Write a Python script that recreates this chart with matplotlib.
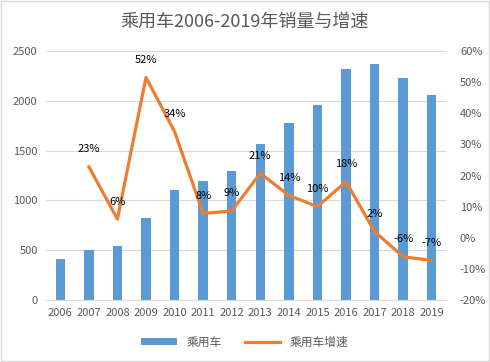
import matplotlib
matplotlib.use("Agg")
import matplotlib.pyplot as plt
from matplotlib.ticker import FuncFormatter
import numpy as np

plt.rcParams['font.family'] = ['Noto Sans CJK SC', 'DejaVu Sans']

years = ["2006", "2007", "2008", "2009", "2010", "2011", "2012",
         "2013", "2014", "2015", "2016", "2017", "2018", "2019"]
sales = [412, 502, 542, 823, 1104, 1195, 1295,
         1566, 1777, 1958, 2319, 2369, 2229, 2058]
growth_years = years[1:]
growth = [22.8, 6.0, 51.5, 34.1, 7.8, 8.6, 20.7, 13.6, 10.0, 18.0, 2.0, -6.1, -7.3]

BLUE = "#5B9BD5"
ORANGE = "#ED7D31"
GREY = "#595959"

fig = plt.figure(figsize=(4.9, 3.62), dpi=100)
ax = fig.add_axes([46 / 490, 1 - 300 / 362, 400 / 490, 249 / 362])

x = np.arange(len(years))
ax.bar(x, sales, width=0.33, color=BLUE, label="乘用车", zorder=2)
ax.set_ylim(0, 2500)
ax.set_yticks(range(0, 2501, 500))
ax.set_xlim(-0.5, len(years) - 0.5)
ax.set_xticks(x)
ax.set_xticklabels(years)
ax.yaxis.grid(True, color="#D9D9D9", lw=0.8, zorder=0)
for s in ["top", "left", "right"]:
    ax.spines[s].set_visible(False)
ax.spines["bottom"].set_color("#D9D9D9")
ax.tick_params(axis="both", length=0, labelsize=8, colors=GREY, pad=6)

ax2 = ax.twinx()
gx = x[1:]
ax2.plot(gx, growth, color=ORANGE, lw=2.3, label="乘用车增速", zorder=3)
ax2.set_ylim(-20, 60)
ax2.set_yticks(range(-20, 61, 10))
ax2.yaxis.set_major_formatter(FuncFormatter(lambda v, p: f"{v:.0f}%"))
for s in ["top", "left", "right", "bottom"]:
    ax2.spines[s].set_visible(False)
ax2.tick_params(axis="y", length=0, labelsize=8, colors=GREY, pad=10)
for xi, g in zip(gx, growth):
    ax2.annotate(f"{round(g):.0f}%", (xi, g), xytext=(0, 9), textcoords="offset points",
                 ha="center", va="bottom", fontsize=8, color="black")

fig.suptitle("乘用车2006-2019年销量与增速", y=1 - 22 / 362, va="center",
             fontsize=13, color=GREY)

h1, l1 = ax.get_legend_handles_labels()
h2, l2 = ax2.get_legend_handles_labels()
fig.legend(h1 + h2, l1 + l2, loc="center", bbox_to_anchor=(0.5, 1 - 342 / 362),
           ncol=2, frameon=False, fontsize=8.5, labelcolor=GREY,
           handlelength=3.0, handleheight=0.5, columnspacing=2.0)

fig.patches.append(matplotlib.patches.Rectangle((0.002, 0.003), 0.996, 0.994,
                   transform=fig.transFigure, fill=False, ec="#D9D9D9", lw=1))

fig.savefig("out.png", dpi=100)
